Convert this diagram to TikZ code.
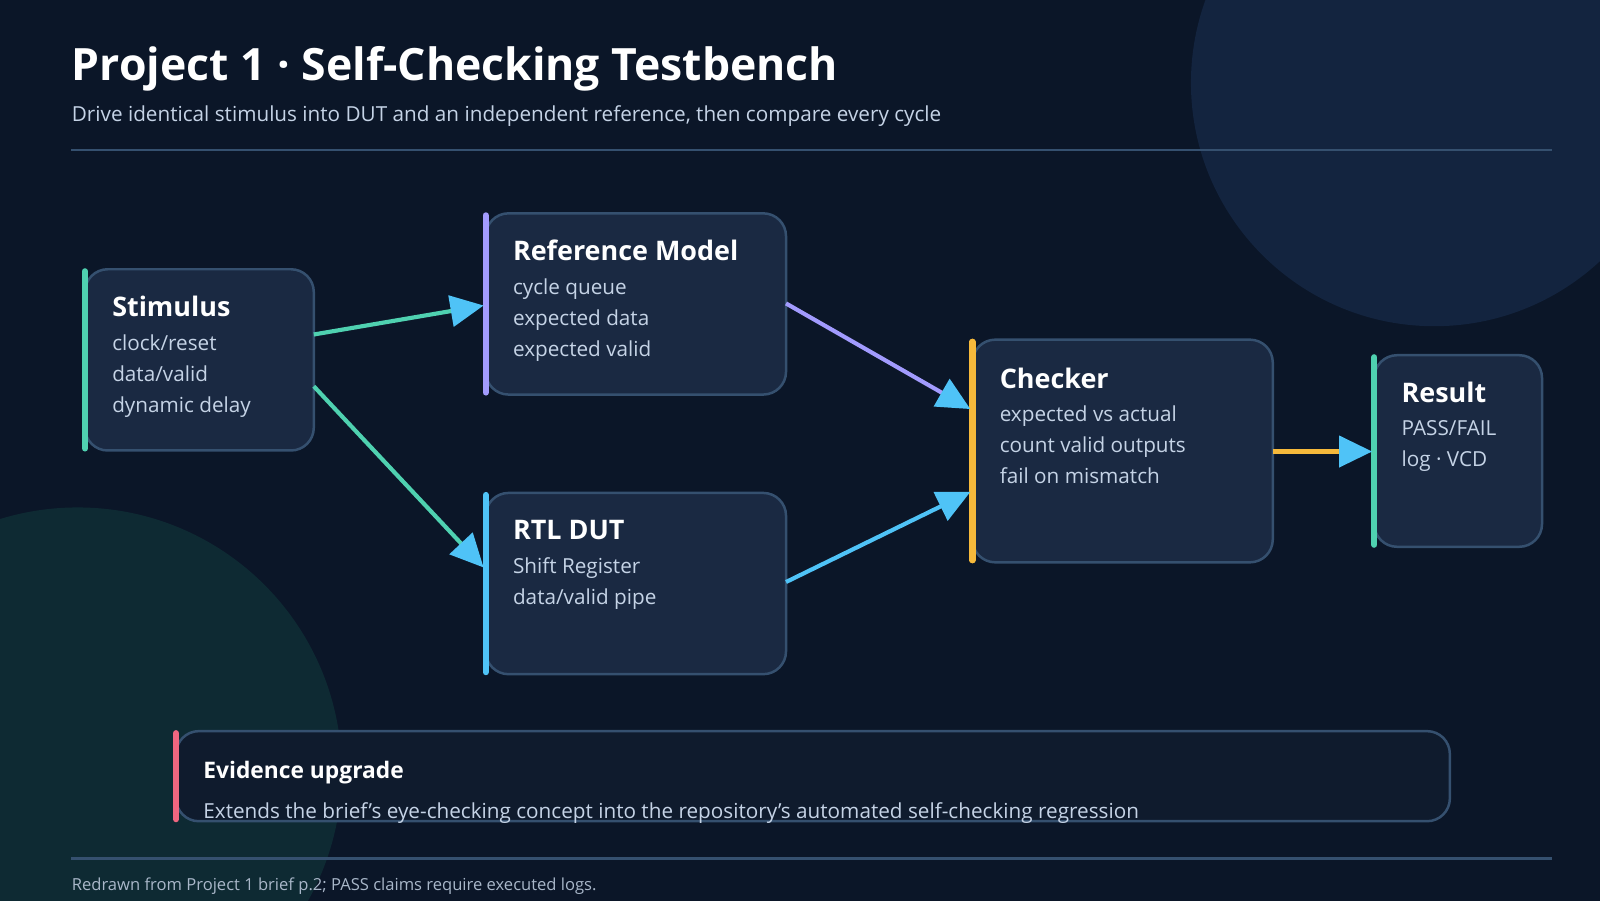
\documentclass[tikz,border=0pt]{standalone}
\usepackage{fontspec}
\setmainfont{Open Sans}
\usetikzlibrary{arrows.meta}
\definecolor{bg}{HTML}{0B1628}
\definecolor{boxf}{HTML}{1A2942}
\definecolor{boxd}{HTML}{35506F}
\definecolor{cgreen}{HTML}{4FD1B0}
\definecolor{cpurple}{HTML}{A29BFE}
\definecolor{cblue}{HTML}{4FC3F7}
\definecolor{corange}{HTML}{F6B93B}
\definecolor{cred}{HTML}{F06680}
\definecolor{body}{HTML}{C5D3E6}
\definecolor{circA}{HTML}{13243F}
\definecolor{circB}{HTML}{0E2A33}
\definecolor{evf}{HTML}{0F1B2D}
\tikzset{
  box/.style={draw=boxd, line width=1.2pt, fill=boxf, rounded corners=11pt},
  bar/.style={line width=3pt, line cap=round},
  ttl/.style={anchor=base west, text=white, font=\fontsize{13}{16}\selectfont\bfseries, inner sep=0},
  bdy/.style={anchor=north west, text=body, font=\fontsize{10}{15}\selectfont, align=left, inner sep=0},
  conn/.style={line width=2pt, -{Triangle[length=16pt,width=15pt,fill=cblue,color=cblue]}}
}
\begin{document}
\begin{tikzpicture}[x=0.5pt,y=-0.5pt]
\fill[bg] (0,0) rectangle (1545,870);
\useasboundingbox (0,0) rectangle (1545,870);
\begin{scope}
\clip (0,0) rectangle (1545,870);
\fill[circA] (1385,80) circle (235);
\fill[circB] (75,745) circle (255);
\end{scope}
\node[anchor=base west, text=white, font=\fontsize{21.5}{28}\selectfont\bfseries, inner sep=0] (title) at (69,78) {Project 1 · Self-Checking Testbench};
\node[anchor=base west, text=body, font=\fontsize{10}{13}\selectfont, inner sep=0] (sub) at (69,117) {Drive identical stimulus into DUT and an independent reference, then compare every cycle};
\draw[boxd, line width=1pt] (69,145) coordinate (h1) -- (1499,145) coordinate (h2);
% boxes
\draw[box] (82,260) rectangle (303,435); \draw[bar,cgreen] (82,262) -- (82,433);
\node[ttl] (st) at (108,306) {Stimulus};
\node[bdy] (stb) at (108,323) {clock/reset\\data/valid\\dynamic delay};
\draw[box] (469,206) rectangle (759,381); \draw[bar,cpurple] (469,208) -- (469,379);
\node[ttl] (rt) at (495,252) {Reference Model};
\node[bdy] (rb) at (495,269) {cycle queue\\expected data\\expected valid};
\draw[box] (469,476) rectangle (759,651); \draw[bar,cblue] (469,478) -- (469,649);
\node[ttl] (dt) at (495,521) {RTL DUT};
\node[bdy] (db) at (495,538) {Shift Register\\data/valid pipe};
\draw[box] (939,328) rectangle (1229,543); \draw[bar,corange] (939,330) -- (939,541);
\node[ttl] (ct) at (965,375) {Checker};
\node[bdy] (cb) at (965,391) {expected vs actual\\count valid outputs\\fail on mismatch};
\draw[box] (1327,343) rectangle (1489,528); \draw[bar,cgreen] (1327,345) -- (1327,526);
\node[ttl] (rst) at (1353,389) {Result};
\node[bdy] (rsb) at (1353,406) {PASS/FAIL\\log · VCD};
% evidence
\draw[box, fill=evf] (170,706) rectangle (1400,793); \draw[bar,cred] (170,708) -- (170,791);
\node[anchor=base west, text=white, font=\fontsize{11}{14}\selectfont\bfseries, inner sep=0] (et) at (196,752) {Evidence upgrade};
\node[anchor=base west, text=body, font=\fontsize{10}{13}\selectfont, inner sep=0] (eb) at (196,790) {Extends the brief\char"27 s eye-checking concept into the repository\char"27 s automated self-checking regression};
\draw[boxd, line width=1pt] (69,829) coordinate (f1) -- (1499,829) coordinate (f2);
\node[anchor=base west, text=body!85!bg, font=\fontsize{8}{10}\selectfont, inner sep=0] (foot) at (69,860) {Redrawn from Project 1 brief p.2; PASS claims require executed logs.};
% connectors
\coordinate (s1) at (303,323); \coordinate (r1) at (467,295);
\coordinate (s2) at (303,373); \coordinate (d1) at (467,548);
\coordinate (r2) at (759,293); \coordinate (c1) at (937,395);
\coordinate (d2) at (759,562); \coordinate (c2) at (937,475);
\coordinate (c3) at (1229,436); \coordinate (x1) at (1325,436);
\draw[conn, cgreen] (s1) -- (r1);
\draw[conn, cgreen] (s2) -- (d1);
\draw[conn, cpurple] (r2) -- (c1);
\draw[conn, cblue] (d2) -- (c2);
\draw[conn, corange] (c3) -- (x1);
\end{tikzpicture}
\end{document}
